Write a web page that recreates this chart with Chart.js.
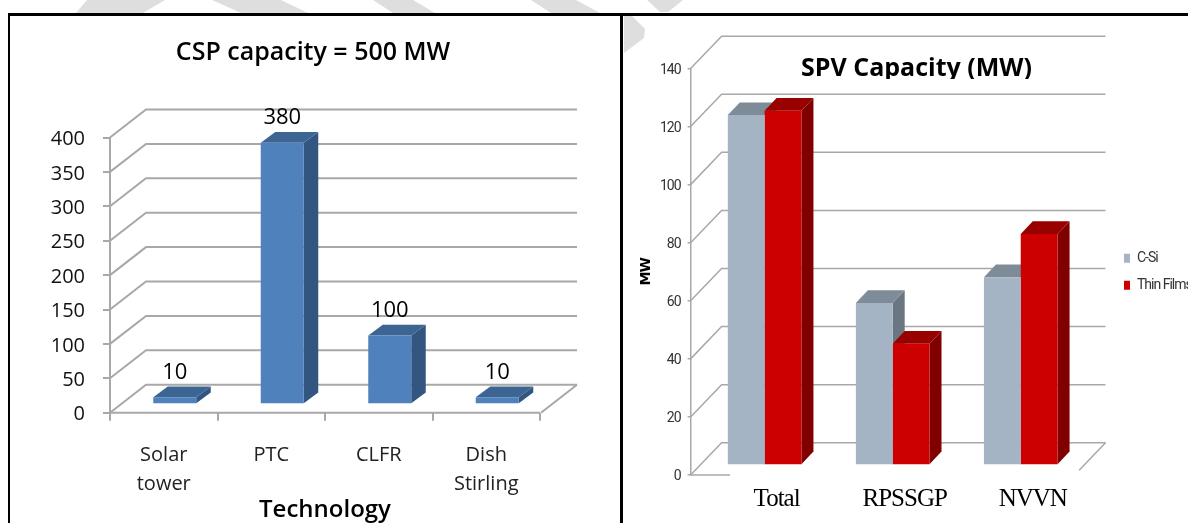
<!DOCTYPE html>
<html>
<head>
<meta charset="utf-8">
<title>CSP and SPV capacity</title>
<script src="https://cdn.jsdelivr.net/npm/chart.js@4/dist/chart.umd.js"></script>
<style>
    html, body { margin: 0; padding: 0; background: #fff; overflow: hidden; }
    #page { position: relative; width: 1188px; height: 523px; overflow: hidden; }
    #page canvas, #page svg { position: absolute; left: 0; top: 0; }
    .rule { position: absolute; background: #000; }
</style>
</head>
<body>
<div id="page">
    <!-- watermark showing through behind the two pasted charts -->
    <svg width="1188" height="523" fill="#dedede">
        <polygon points="87,0 165,0 143,13 76,13"/>
        <polygon points="212,0 281,0 308,13 241,13"/>
        <polygon points="373,0 413,0 435,13 393,13"/>
        <polygon points="531,0 576,0 600,13 551,13"/>
        <polygon points="647,0 683,0 668,12 660,12"/>
        <polygon points="624,16 632,16 645,29 644,38 624,53"/>
    </svg>
    <canvas id="cspChart" width="1188" height="523"></canvas>
    <canvas id="spvChart" width="1188" height="523"></canvas>
    <div class="rule" style="left:8px;top:13px;width:1180px;height:3px"></div>
    <div class="rule" style="left:8px;top:13px;width:2px;height:510px"></div>
    <div class="rule" style="left:620px;top:13px;width:3px;height:510px"></div>
</div>

<script>
const cspCategories = [["Solar", "tower"], "PTC", "CLFR", ["Dish", "Stirling"]];
const cspValues = [10, 380, 100, 10];

const spvCategories = ["Total", "RPSSGP", "NVVN"];
const cSiValues = [120.5, 55.8, 64.7];
const thinFilmValues = [122, 41.8, 79.6];

const GRID = "#a8a8a8";
const SANS = "'Open Sans', sans-serif";
const NARROW = "Roboto, sans-serif";

// Fakes the Excel 3D look: back wall, floor and the top/side faces of the bars
const depth3d = {
    id: "depth3d",
    beforeDatasetsDraw(chart, args, opts) {
        const { ctx, chartArea } = chart;
        const y = chart.scales.y;
        ctx.save();
        ctx.strokeStyle = GRID;
        ctx.lineWidth = opts.lineWidth;
        // wall lines, one per tick of the value axis
        y.ticks.forEach((tick) => {
            const py = y.getPixelForValue(tick.value);
            ctx.beginPath();
            ctx.moveTo(chartArea.left, py);
            ctx.lineTo(chartArea.left + opts.wall.dx, py - opts.wall.dy);
            ctx.lineTo(opts.wallRight, py - opts.wall.dy);
            ctx.stroke();
        });
        // floor
        const py0 = y.getPixelForValue(0);
        ctx.beginPath();
        ctx.moveTo(chartArea.left, py0);
        ctx.lineTo(opts.floorFrontTo, py0);
        ctx.moveTo(opts.wallRight, py0 - opts.wall.dy);
        ctx.lineTo(
            opts.wallRight - opts.wall.dx * opts.floorSide,
            py0 - opts.wall.dy + opts.wall.dy * opts.floorSide
        );
        ctx.stroke();
        ctx.restore();

        // the library draws the bar fronts inside this translation
        ctx.save();
        ctx.translate(opts.barShift.x, -opts.barShift.y);
        chart.data.datasets.forEach((ds, i) => {
            const face = opts.faces[i];
            chart.getDatasetMeta(i).data.forEach((bar) => {
                const left = bar.x - bar.width / 2;
                const right = bar.x + bar.width / 2;
                const { dx, dy } = opts.barDepth;
                ctx.fillStyle = face.side;
                ctx.beginPath();
                ctx.moveTo(right, bar.y);
                ctx.lineTo(right, bar.base);
                ctx.lineTo(right + dx, bar.base - dy);
                ctx.lineTo(right + dx, bar.y - dy);
                ctx.closePath();
                ctx.fill();
                ctx.fillStyle = face.top;
                ctx.beginPath();
                ctx.moveTo(left, bar.y);
                ctx.lineTo(right, bar.y);
                ctx.lineTo(right + dx, bar.y - dy);
                ctx.lineTo(left + dx, bar.y - dy);
                ctx.closePath();
                ctx.fill();
            });
        });
    },
    afterDatasetsDraw(chart, args, opts) {
        const { ctx } = chart;
        if (opts.valueLabels) {
            ctx.fillStyle = "#000";
            ctx.font = opts.valueLabels.font;
            ctx.textAlign = "center";
            ctx.textBaseline = "middle";
            chart.getDatasetMeta(0).data.forEach((bar, i) => {
                ctx.fillText(String(chart.data.datasets[0].data[i]), bar.x, bar.y - opts.valueLabels.gap);
            });
        }
        ctx.restore();
    }
};

// Chart heading; the SPV one is cut off at the bottom in the source picture
const heading = {
    id: "heading",
    afterDraw(chart, args, opts) {
        const { ctx } = chart;
        ctx.save();
        if (opts.clipBottom) {
            ctx.beginPath();
            ctx.rect(0, 0, chart.width, opts.clipBottom);
            ctx.clip();
        }
        ctx.letterSpacing = "0px";
        ctx.fillStyle = "#000";
        ctx.font = opts.font;
        ctx.textAlign = "center";
        ctx.textBaseline = "alphabetic";
        ctx.fillText(opts.text, opts.x, opts.y);
        ctx.restore();
    }
};

// The legend sits further right than the layout would put it.
// No condensed font is installed, so the SPV text is squeezed a little instead.
const spvTweaks = {
    id: "spvTweaks",
    afterLayout(chart, args, opts) {
        chart.legend.left = opts.legendLeft;
        chart.legend.right = opts.legendLeft + chart.legend.width;
    },
    beforeDraw(chart, args, opts) {
        chart.ctx.letterSpacing = opts.letterSpacing;
    }
};

new Chart(document.getElementById("cspChart"), {
    type: "bar",
    data: {
        labels: cspCategories,
        datasets: [{
            data: cspValues,
            backgroundColor: "#4f81bd",
            barPercentage: 1,
            categoryPercentage: 0.4
        }]
    },
    plugins: [depth3d, heading],
    options: {
        responsive: false,
        animation: false,
        layout: { padding: { left: 0, top: 137.5, right: 648, bottom: 0 } },
        plugins: {
            legend: { display: false },
            tooltip: { enabled: false },
            heading: { text: "CSP capacity = 500 MW", x: 313, y: 60, font: "600 25px " + SANS },
            depth3d: {
                lineWidth: 2,
                wall: { dx: 36, dy: 28 },
                wallRight: 577,
                floorFrontTo: 540,
                floorSide: 1,
                barShift: { x: 11, y: 8.5 },
                barDepth: { dx: 14.5, dy: 10.7 },
                faces: [{ top: "#3d6594", side: "#335680" }],
                valueLabels: { font: "22px " + SANS, gap: 25 }
            }
        },
        scales: {
            x: {
                afterFit(s) { s.height = 110.3; s.paddingLeft = 0; s.paddingRight = 0; },
                border: { display: false },
                grid: { color: GRID, lineWidth: 2, drawOnChartArea: false, tickLength: 8 },
                ticks: {
                    color: "#222",
                    font: { family: SANS, size: 20, lineHeight: 1.45 },
                    padding: 20,
                    maxRotation: 0,
                    autoSkip: false
                },
                title: {
                    display: true,
                    text: "Technology",
                    color: "#000",
                    font: { family: SANS, size: 24, weight: "600", lineHeight: 1.1 },
                    padding: { top: 0, bottom: 0 }
                }
            },
            y: {
                min: 0,
                max: 400,
                afterFit(s) { s.width = 110; s.paddingTop = 0; s.paddingBottom = 0; },
                border: { color: GRID, width: 2 },
                grid: { color: GRID, lineWidth: 2, drawOnChartArea: false, tickLength: 7 },
                ticks: {
                    stepSize: 50,
                    color: "#111",
                    font: { family: SANS, size: 20 },
                    padding: 18,
                    labelOffset: 2
                }
            }
        }
    }
});

new Chart(document.getElementById("spvChart"), {
    type: "bar",
    data: {
        labels: spvCategories,
        datasets: [
            { label: "C-Si", data: cSiValues, backgroundColor: "#a5b4c4", barPercentage: 1, categoryPercentage: 0.575 },
            { label: "Thin Films", data: thinFilmValues, backgroundColor: "#cc0000", barPercentage: 1, categoryPercentage: 0.575 }
        ]
    },
    plugins: [depth3d, heading, spvTweaks],
    options: {
        responsive: false,
        animation: false,
        layout: { padding: { left: 638, top: 68.5, right: 12.5, bottom: 0 } },
        plugins: {
            tooltip: { enabled: false },
            legend: {
                position: "right",
                fullSize: false,
                labels: {
                    boxWidth: 6,
                    boxHeight: 9,
                    padding: 13,
                    color: "#333",
                    font: { family: NARROW, size: 14 }
                }
            },
            spvTweaks: { legendLeft: 1111, letterSpacing: "-1px" },
            heading: {
                text: "SPV Capacity (MW)",
                x: 916.5,
                y: 76,
                clipBottom: 79,
                font: "700 25px " + SANS
            },
            depth3d: {
                lineWidth: 1.5,
                wall: { dx: 31, dy: 32.3 },
                wallRight: 1105.5,
                floorFrontTo: 730,
                floorSide: 0.85,
                barShift: { x: 10, y: 10 },
                barDepth: { dx: 12, dy: 12.7 },
                faces: [
                    { top: "#7e8b98", side: "#6a7682" },
                    { top: "#990000", side: "#800000" }
                ]
            }
        },
        scales: {
            x: {
                afterFit(s) { s.height = 48; s.paddingLeft = 0; s.paddingRight = 0; },
                border: { display: false },
                grid: { display: false, drawTicks: false },
                ticks: {
                    color: "#000",
                    font: { family: "'Liberation Serif', serif", size: 25 },
                    padding: 9,
                    labelOffset: 22,
                    maxRotation: 0,
                    autoSkip: false
                }
            },
            y: {
                min: 0,
                max: 140,
                afterFit(s) { s.width = 52.6; s.paddingTop = 0; s.paddingBottom = 0; },
                border: { color: GRID, width: 1.5 },
                grid: { color: GRID, lineWidth: 1.5, drawOnChartArea: false, tickLength: 3 },
                ticks: {
                    stepSize: 20,
                    color: "#333",
                    font: { family: NARROW, size: 14 },
                    padding: 7,
                    labelOffset: 1.5
                },
                title: {
                    display: true,
                    text: "MW",
                    color: "#000",
                    font: { family: "'DejaVu Sans', sans-serif", size: 14, weight: "bold" },
                    padding: 0
                }
            }
        }
    }
});
</script>
</body>
</html>
